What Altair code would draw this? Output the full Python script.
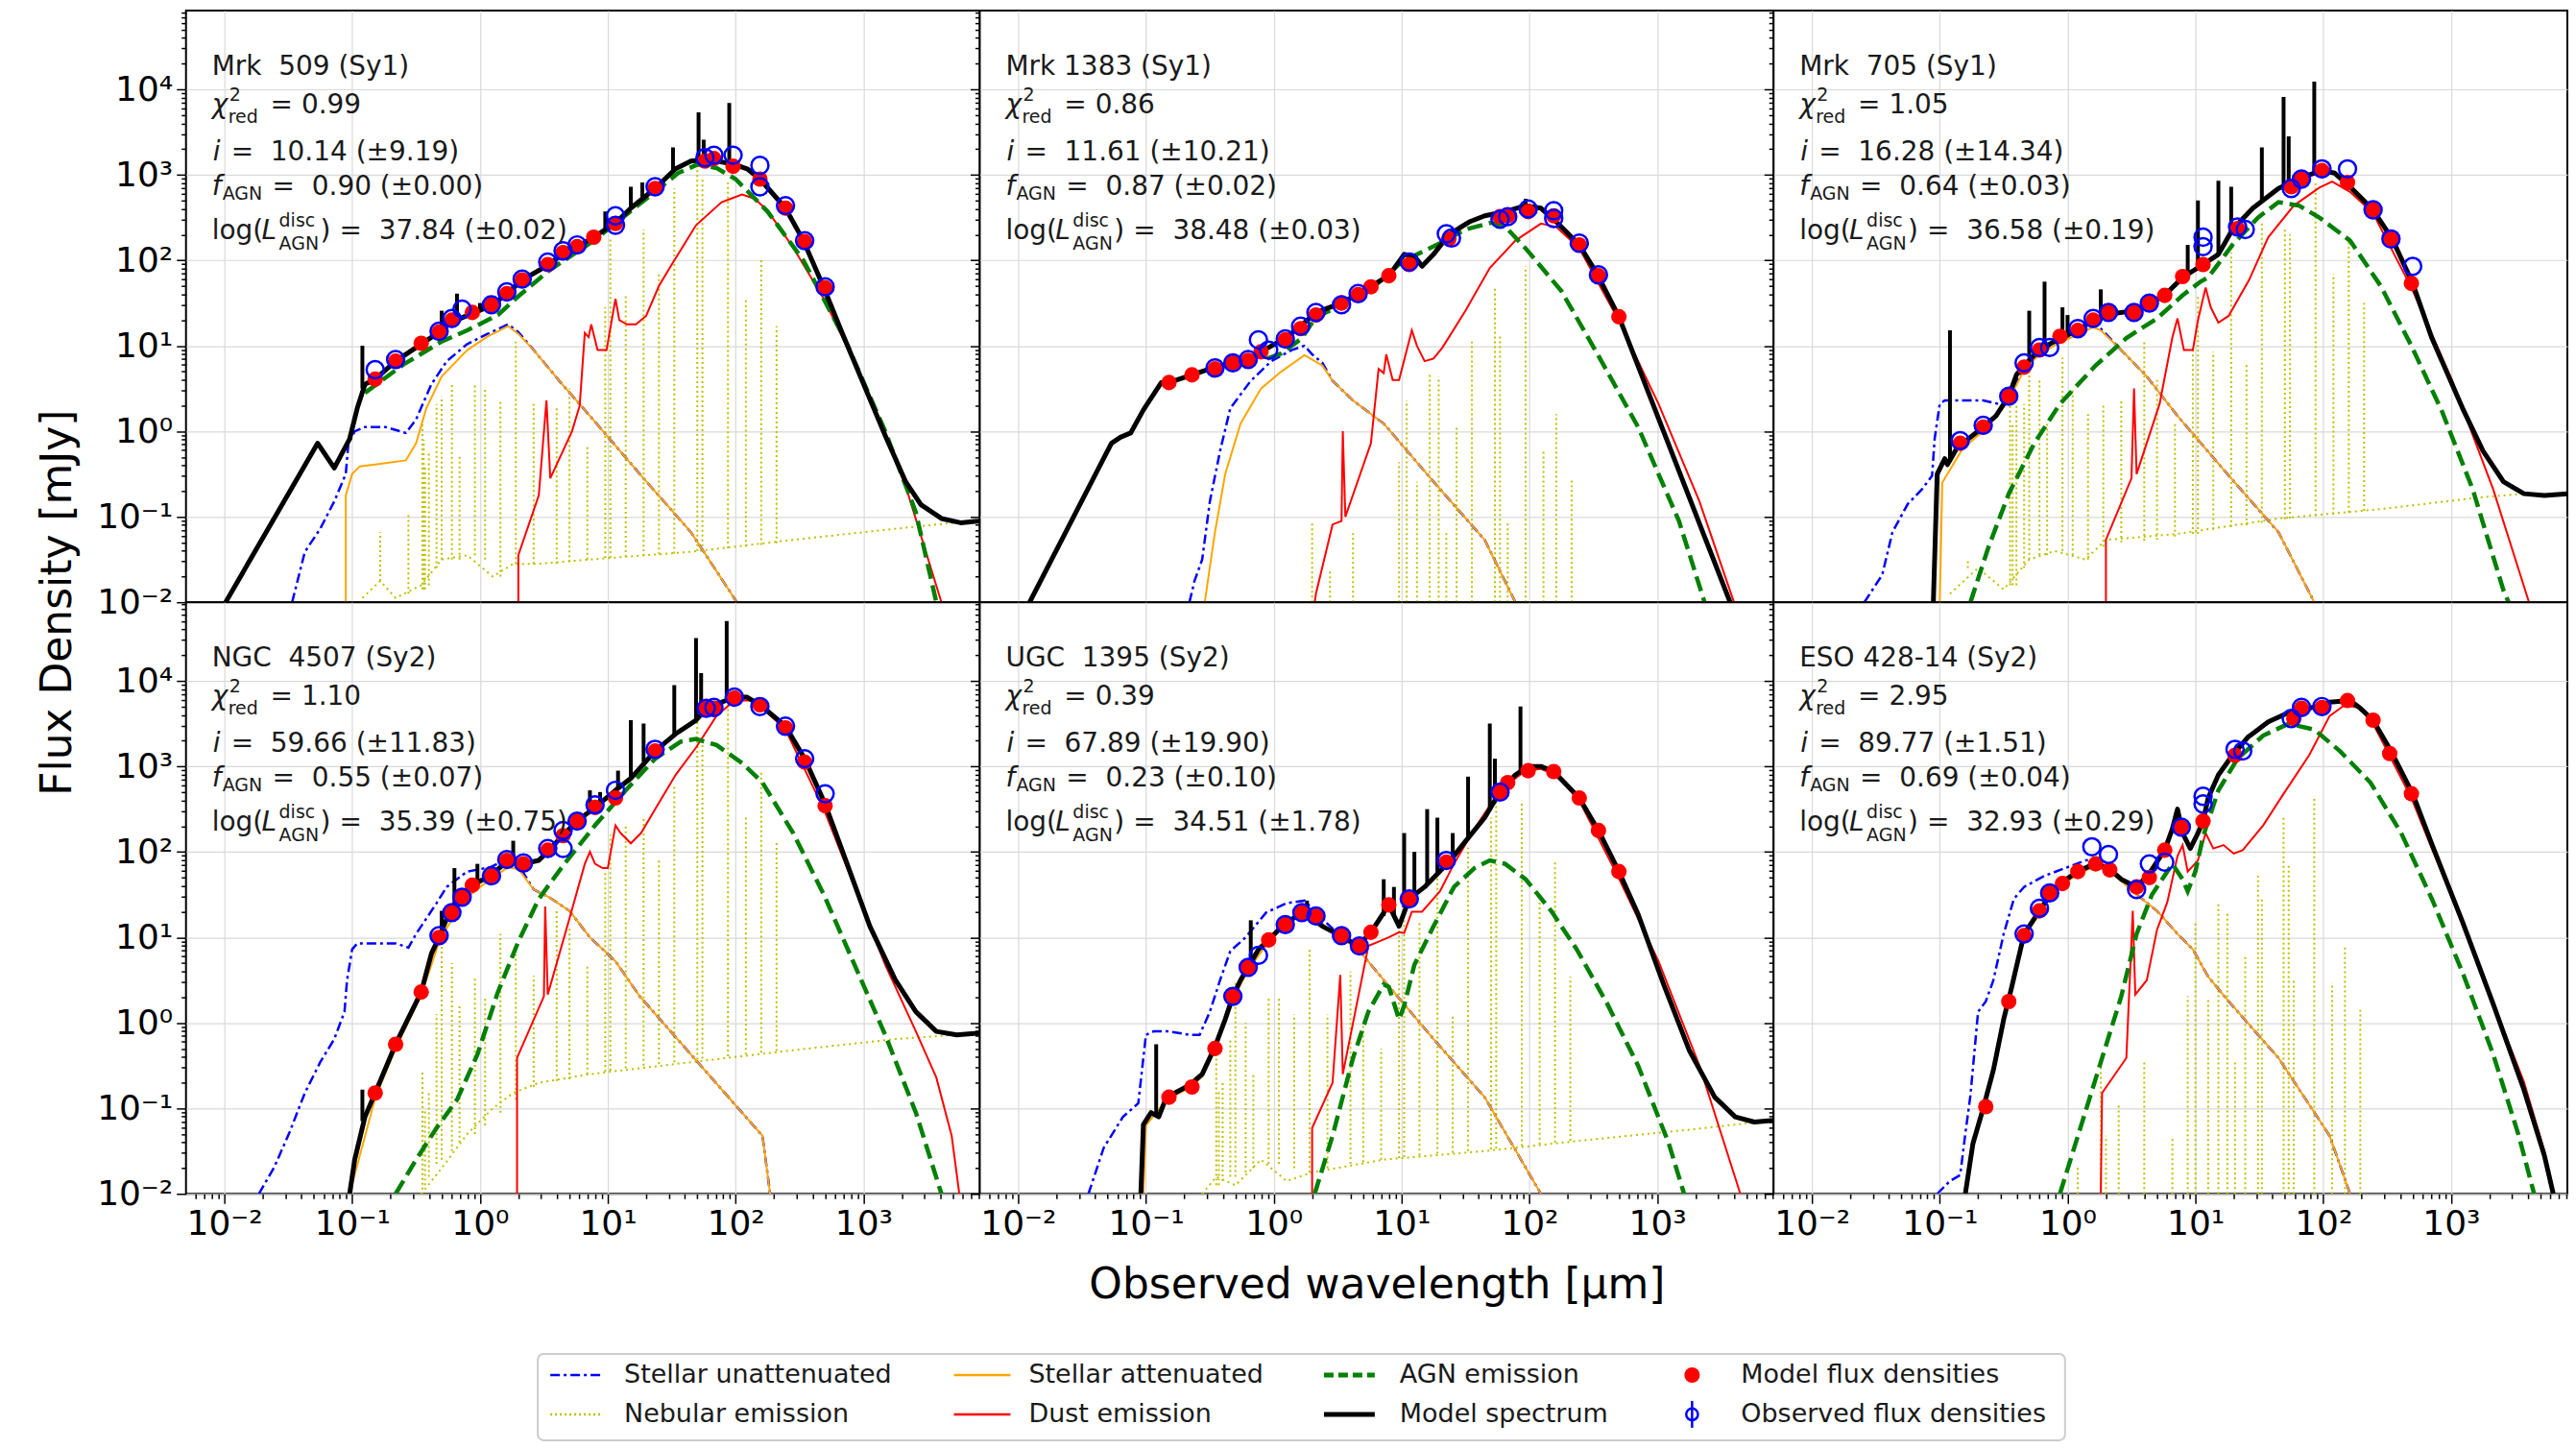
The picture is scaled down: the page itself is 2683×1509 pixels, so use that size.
import altair as alt
import pandas as pd

FONT = "DejaVu Sans"
PANEL_W, PANEL_H = 828, 617
X_DOMAIN = [10 ** -2.30, 10 ** 3.91]
Y_DOMAIN = [1e-2, 10 ** 4.92]

NAMES = ["Mrk\u00a0\u00a0509 (Sy1)", "Mrk 1383 (Sy1)", "Mrk\u00a0\u00a0705 (Sy1)",
         "NGC\u00a0\u00a04507 (Sy2)", "UGC\u00a0\u00a01395 (Sy2)", "ESO 428-14 (Sy2)"]
CHI2 = ["0.99", "0.86", "1.05", "1.10", "0.39", "2.95"]
INCL = ["10.14 (±9.19)", "11.61 (±10.21)", "16.28 (±14.34)", "59.66 (±11.83)", "67.89 (±19.90)", "89.77 (±1.51)"]
FAGN = ["0.90 (±0.00)", "0.87 (±0.02)", "0.64 (±0.03)", "0.55 (±0.07)", "0.23 (±0.10)", "0.69 (±0.04)"]
LAGN = ["37.84 (±0.02)", "38.48 (±0.03)", "36.58 (±0.19)", "35.39 (±0.75)", "34.51 (±1.78)", "32.93 (±0.29)"]

# All curves: (log10 wavelength [um], log10 flux [mJy])
# Rules: (log10 wavelength, log10 base, log10 top)

# ---------------- Mrk 509 ----------------
MRK509_SPEC = [(-1.99,-2.00),(-1.27,-0.14),(-1.14,-0.43),(-1.02,-0.09),(-0.96,0.27),(-0.90,0.55),(-0.82,0.61),(-0.66,0.82),(-0.46,1.02),(-0.32,1.16),(-0.22,1.28),(-0.04,1.39),(0.10,1.48),(0.21,1.61),(0.33,1.77),(0.54,1.95),(0.66,2.09),(0.76,2.16),(0.89,2.27),(1.00,2.38),(1.07,2.45),(1.18,2.61),(1.37,2.84),(1.53,3.07),(1.65,3.16),(1.77,3.18),(1.97,3.13),(2.09,3.07),(2.19,2.95),(2.39,2.61),(2.53,2.23),(2.69,1.68),(2.85,1.09),(3.17,-0.05),(3.33,-0.59),(3.45,-0.86),(3.61,-1.02),(3.76,-1.07),(3.91,-1.05)]
MRK509_SPIKES = [(-0.92,0.50,1.00),(-0.30,1.14,1.41),(-0.18,1.25,1.61),(0.00,1.42,1.50),(0.98,2.36,2.57),(1.18,2.61,2.86),(1.27,2.72,2.91),(1.51,3.04,3.32),(1.71,3.17,3.73),(1.75,3.18,3.41),(1.95,3.14,3.84)]
MRK509_MODEL = [(-0.82,0.61),(-0.66,0.82),(-0.46,1.03),(-0.32,1.16),(-0.22,1.30),(-0.06,1.39),(0.09,1.48),(0.21,1.61),(0.33,1.77),(0.53,1.95),(0.65,2.09),(0.76,2.16),(0.89,2.27),(1.06,2.43),(1.37,2.84),(1.76,3.16),(1.83,3.19),(1.98,3.10),(2.19,2.95),(2.39,2.61),(2.54,2.22),(2.70,1.68)]
MRK509_OBS = [(-0.82,0.72),(-0.66,0.84),(-0.32,1.17),(-0.22,1.32),(-0.14,1.43),(0.09,1.48),(0.21,1.63),(0.33,1.78),(0.53,1.98),(0.65,2.11),(0.76,2.18),(1.06,2.52),(1.06,2.41),(1.37,2.86),(1.76,3.20),(1.83,3.23),(1.98,3.23),(2.19,3.11),(2.19,2.86),(2.39,2.64),(2.54,2.23),(2.70,1.69)]
MRK509_AGN = [(-0.90,0.45),(-0.60,0.78),(-0.30,1.05),(-0.10,1.18),(0.14,1.36),(0.30,1.58),(0.54,1.88),(0.90,2.24),(1.20,2.60),(1.40,2.84),(1.55,3.02),(1.70,3.12),(1.85,3.08),(2.00,2.95),(2.25,2.57),(2.53,2.00),(2.85,1.09),(3.17,0.00),(3.41,-0.95),(3.57,-2.00)]
MRK509_DUST = [(0.30,-2.0),(0.30,-1.45),(0.46,-0.75),(0.52,0.36),(0.55,-0.55),(0.72,0.00),(0.78,0.30),(0.82,1.15),(0.85,1.10),(0.87,1.25),(0.92,0.95),(0.99,0.95),(1.06,1.55),(1.09,1.30),(1.15,1.25),(1.22,1.25),(1.30,1.35),(1.40,1.70),(1.50,1.95),(1.69,2.41),(1.89,2.68),(2.05,2.77),(2.15,2.72),(2.25,2.58),(2.45,2.15),(2.69,1.55),(3.01,0.55),(3.33,-0.64),(3.61,-2.0)]
MRK509_STUN = [(-1.47,-2.0),(-1.37,-1.41),(-1.25,-1.14),(-1.14,-0.82),(-1.05,-0.50),(-1.03,-0.15),(-0.98,0.00),(-0.90,0.05),(-0.74,0.05),(-0.58,-0.02),(-0.50,0.14),(-0.38,0.55),(-0.26,0.82),(-0.10,1.02),(0.06,1.14),(0.22,1.25),(0.30,1.16),(0.42,0.95),(0.62,0.59),(0.86,0.18),(1.25,-0.50),(1.65,-1.18),(2.01,-2.0)]
MRK509_STATT = [(-1.05,-2.0),(-1.05,-0.75),(-1.00,-0.50),(-0.94,-0.41),(-0.82,-0.39),(-0.58,-0.34),(-0.50,-0.14),(-0.42,0.27),(-0.30,0.64),(-0.10,0.95),(0.06,1.11),(0.22,1.23),(0.30,1.14),(0.42,0.95),(0.62,0.59),(0.86,0.18),(1.25,-0.50),(1.65,-1.18),(2.01,-2.0)]
MRK509_NEBC = [(-0.92,-1.95),(-0.78,-1.75),(-0.66,-1.95),(-0.46,-1.80),(-0.30,-1.50),(-0.10,-1.45),(0.10,-1.70),(0.26,-1.55),(0.46,-1.55),(0.86,-1.50),(1.65,-1.41),(2.45,-1.27),(3.25,-1.14),(3.91,-1.04)]
MRK509_NEBL = [(-0.78,-1.75,-1.18),(-0.56,-1.90,-0.95),(-0.45,-1.85,0.09),(-0.44,-1.85,-0.10),(-0.43,-1.85,-0.40),(-0.40,-1.80,-0.23),(-0.34,-1.60,0.32),(-0.30,-1.50,0.41),(-0.22,-1.50,0.55),(-0.16,-1.50,-0.27),(-0.04,-1.45,0.55),(0.04,-1.50,0.50),(0.16,-1.70,0.36),(0.28,-1.55,1.05),(0.42,-1.55,0.32),(0.60,-1.55,0.27),(0.70,-1.53,0.50),(0.84,-1.50,-0.18),(0.98,-1.48,1.45),(1.02,-1.48,2.27),(1.14,-1.47,1.59),(1.28,-1.46,2.36),(1.40,-1.44,1.86),(1.52,-1.43,2.84),(1.70,-1.40,3.09),(1.74,-1.40,2.95),(1.94,-1.37,2.91),(2.08,-1.35,1.55),(2.20,-1.33,2.02),(2.32,-1.31,1.23)]

# ---------------- Mrk 1383 ----------------
MRK1383_SPEC = [(-1.91,-2.00),(-1.27,-0.14),(-1.20,-0.07),(-1.12,-0.02),(-1.02,0.25),(-0.88,0.57),(-0.82,0.57),(-0.64,0.66),(-0.46,0.75),(-0.32,0.80),(-0.20,0.84),(-0.04,0.98),(0.09,1.09),(0.21,1.23),(0.33,1.39),(0.53,1.50),(0.66,1.61),(0.76,1.70),(0.90,1.82),(1.02,2.07),(1.10,2.05),(1.16,1.93),(1.25,2.07),(1.37,2.30),(1.53,2.45),(1.65,2.52),(1.81,2.57),(1.97,2.64),(2.09,2.61),(2.21,2.45),(2.39,2.18),(2.53,1.84),(2.70,1.34),(3.57,-2.00)]
MRK1383_SPIKES = [(1.97,2.62,2.72)]
MRK1383_MODEL = [(-0.82,0.57),(-0.64,0.66),(-0.46,0.73),(-0.32,0.80),(-0.20,0.83),(-0.10,0.93),(0.09,1.07),(0.21,1.20),(0.33,1.36),(0.53,1.50),(0.66,1.60),(0.76,1.69),(0.90,1.82),(1.06,1.95),(1.37,2.25),(1.77,2.51),(1.83,2.52),(1.99,2.57),(2.19,2.52),(2.39,2.18),(2.54,1.82),(2.70,1.34)]
MRK1383_OBS = [(-0.46,0.74),(-0.32,0.80),(-0.20,0.84),(-0.12,1.07),(-0.04,0.95),(0.09,1.08),(0.21,1.23),(0.33,1.39),(0.53,1.48),(0.66,1.61),(1.06,1.98),(1.35,2.31),(1.39,2.26),(1.77,2.48),(1.83,2.51),(1.99,2.60),(2.19,2.58),(2.19,2.49),(2.39,2.20),(2.54,1.83)]
MRK1383_AGN = [(-0.05,0.85),(0.06,0.91),(0.22,1.09),(0.33,1.34),(0.53,1.47),(0.76,1.66),(1.00,1.98),(1.30,2.20),(1.50,2.36),(1.70,2.44),(1.82,2.38),(1.97,2.14),(2.25,1.64),(2.53,0.91),(2.85,0.05),(3.17,-1.05),(3.37,-2.00)]
MRK1383_DUST = [(0.32,-2.00),(0.33,-1.90),(0.46,-1.09),(0.53,-1.05),(0.54,0.00),(0.56,-1.00),(0.76,-0.14),(0.82,0.73),(0.86,0.68),(0.88,0.90),(0.93,0.60),(0.98,0.60),(1.08,1.18),(1.12,1.00),(1.18,0.82),(1.25,0.85),(1.32,0.98),(1.50,1.41),(1.69,1.91),(1.89,2.23),(2.09,2.43),(2.21,2.39),(2.39,2.14),(2.69,1.32),(3.01,0.32),(3.33,-0.82),(3.60,-2.00)]
MRK1383_STUN = [(-0.66,-2.00),(-0.62,-1.75),(-0.56,-1.50),(-0.50,-0.82),(-0.42,-0.23),(-0.34,0.27),(-0.18,0.59),(-0.02,0.82),(0.14,0.95),(0.24,1.00),(0.30,0.90),(0.38,0.80),(0.46,0.59),(0.62,0.36),(0.86,0.09),(1.25,-0.59),(1.65,-1.27),(1.89,-2.00)]
MRK1383_STATT = [(-0.54,-2.00),(-0.46,-1.18),(-0.38,-0.50),(-0.26,0.09),(-0.10,0.50),(0.06,0.70),(0.24,0.89),(0.38,0.77),(0.46,0.59),(0.62,0.36),(0.86,0.09),(1.25,-0.59),(1.65,-1.27),(1.89,-2.00)]
MRK1383_NEBC = []
MRK1383_NEBL = [(0.30,-2,-1.05),(0.44,-2,-1.64),(0.62,-2,-1.18),(0.98,-2,-0.36),(1.04,-2,0.36),(1.12,-2,-0.59),(1.22,-2,0.68),(1.29,-2,0.64),(1.35,-2,-1.16),(1.43,-2,0.05),(1.55,-2,1.05),(1.73,-2,1.70),(1.77,-2,1.14),(1.83,-2,-1.05),(1.97,-2,1.93),(2.11,-2,-0.23),(2.21,-2,0.20),(2.33,-2,-0.55)]

# ---------------- Mrk 705 ----------------
MRK705_SPEC = [(-1.05,-2.00),(-1.02,-0.50),(-0.96,-0.32),(-0.94,-0.39),(-0.86,-0.18),(-0.82,-0.14),(-0.66,0.05),(-0.56,0.18),(-0.46,0.41),(-0.40,0.66),(-0.34,0.77),(-0.22,0.95),(-0.06,1.09),(0.08,1.18),(0.20,1.30),(0.32,1.37),(0.52,1.41),(0.64,1.50),(0.76,1.59),(0.90,1.80),(1.06,1.95),(1.18,2.07),(1.29,2.36),(1.45,2.61),(1.65,2.84),(1.85,2.98),(1.99,3.05),(2.09,3.02),(2.21,2.86),(2.39,2.59),(2.54,2.25),(2.70,1.73),(2.85,1.09),(3.09,0.27),(3.25,-0.23),(3.41,-0.59),(3.57,-0.73),(3.73,-0.75),(3.91,-0.73)]
MRK705_SPIKES = [(-0.92,-0.35,1.18),(-0.30,0.86,1.41),(-0.18,0.98,1.75),(-0.04,1.06,1.45),(0.00,1.10,1.36),(0.26,1.34,1.66),(0.94,1.84,2.18),(1.02,1.90,2.70),(1.18,2.07,2.93),(1.28,2.33,2.86),(1.52,2.70,3.32),(1.69,2.88,3.91),(1.73,2.90,3.45),(1.93,3.03,4.09)]
MRK705_MODEL = [(-0.84,-0.14),(-0.66,0.05),(-0.46,0.41),(-0.34,0.75),(-0.22,0.95),(-0.06,1.11),(0.08,1.18),(0.20,1.30),(0.32,1.39),(0.52,1.39),(0.64,1.50),(0.76,1.59),(0.90,1.81),(1.06,1.95),(1.33,2.37),(1.75,2.86),(1.83,2.95),(1.99,3.05),(2.19,2.91),(2.39,2.59),(2.53,2.25),(2.69,1.73)]
MRK705_OBS = [(-0.84,-0.11),(-0.66,0.07),(-0.46,0.41),(-0.34,0.80),(-0.22,0.98),(-0.14,0.98),(0.08,1.20),(0.20,1.32),(0.32,1.39),(0.52,1.39),(0.64,1.50),(1.06,2.27),(1.06,2.16),(1.33,2.39),(1.39,2.36),(1.75,2.84),(1.83,2.95),(1.99,3.07),(2.19,3.07),(2.39,2.59),(2.53,2.25),(2.70,1.93)]
MRK705_AGN = [(-0.76,-2.00),(-0.62,-1.36),(-0.46,-0.73),(-0.26,-0.14),(-0.06,0.32),(0.22,0.77),(0.46,1.09),(0.70,1.32),(0.90,1.59),(1.04,1.75),(1.10,1.80),(1.29,2.18),(1.49,2.50),(1.65,2.68),(1.81,2.64),(1.97,2.50),(2.21,2.23),(2.45,1.70),(2.69,1.00),(2.93,0.23),(3.17,-0.68),(3.41,-1.86),(3.45,-2.00)]
MRK705_DUST = [(0.30,-2.00),(0.30,-1.27),(0.50,-0.55),(0.52,0.50),(0.54,-0.50),(0.72,0.32),(0.82,1.10),(0.86,1.32),(0.91,0.95),(0.98,0.95),(1.02,1.30),(1.08,1.68),(1.12,1.45),(1.18,1.27),(1.26,1.35),(1.42,1.77),(1.57,2.27),(1.77,2.64),(1.97,2.85),(2.07,2.92),(2.21,2.80),(2.39,2.55),(2.69,1.68),(3.01,0.59),(3.33,-0.68),(3.61,-2.00)]
MRK705_STUN = [(-1.59,-2.00),(-1.45,-1.68),(-1.37,-1.18),(-1.25,-0.85),(-1.14,-0.68),(-1.06,-0.52),(-1.04,-0.09),(-1.00,0.32),(-0.96,0.36),(-0.82,0.36),(-0.66,0.36),(-0.54,0.32),(-0.46,0.41),(-0.34,0.74),(-0.22,0.93),(-0.06,1.07),(0.08,1.16),(0.20,1.27),(0.26,1.20),(0.42,0.95),(0.62,0.64),(0.86,0.18),(1.25,-0.50),(1.65,-1.18),(1.93,-2.00)]
MRK705_STATT = [(-1.00,-2.00),(-0.98,-0.60),(-0.82,-0.20),(-0.66,0.00),(-0.46,0.36),(-0.34,0.72),(-0.22,0.90),(-0.06,1.04),(0.08,1.13),(0.20,1.22),(0.26,1.18),(0.42,0.95),(0.62,0.64),(0.86,0.18),(1.25,-0.50),(1.65,-1.18),(1.93,-2.00)]
MRK705_NEBC = [(-0.92,-1.90),(-0.70,-1.60),(-0.50,-1.85),(-0.30,-1.50),(-0.10,-1.40),(0.14,-1.50),(0.30,-1.27),(0.86,-1.20),(1.65,-1.02),(2.45,-0.91),(3.25,-0.77),(3.57,-0.73)]
MRK705_NEBL = [(-0.78,-1.60,-1.50),(-0.45,-1.80,0.50),(-0.43,-1.80,0.10),(-0.40,-1.80,0.30),(-0.34,-1.60,0.32),(-0.30,-1.50,0.77),(-0.22,-1.45,0.60),(-0.16,-1.45,0.10),(-0.04,-1.40,0.86),(0.04,-1.45,0.50),(0.16,-1.50,0.20),(0.28,-1.35,0.30),(0.42,-1.30,0.36),(0.60,-1.28,1.05),(0.70,-1.27,0.60),(0.84,-1.23,0.10),(0.98,-1.20,0.95),(1.02,-1.20,1.60),(1.14,-1.15,0.93),(1.28,-1.12,2.09),(1.40,-1.10,0.80),(1.52,-1.07,2.45),(1.70,-1.03,2.36),(1.74,-1.02,2.30),(1.94,-0.99,2.90),(2.08,-0.97,1.84),(2.20,-0.95,2.30),(2.32,-0.93,1.50)]

# ---------------- NGC 4507 ----------------
NGC4507_SPEC = [(-1.02,-2.00),(-0.98,-1.60),(-0.90,-1.10),(-0.82,-0.82),(-0.66,-0.25),(-0.46,0.36),(-0.38,0.81),(-0.32,1.00),(-0.26,1.22),(-0.14,1.47),(-0.06,1.61),(0.08,1.72),(0.22,1.90),(0.34,1.86),(0.46,1.90),(0.54,2.02),(0.64,2.18),(0.76,2.36),(0.90,2.52),(1.06,2.72),(1.18,2.86),(1.37,3.18),(1.53,3.38),(1.69,3.54),(1.77,3.68),(1.99,3.81),(2.09,3.81),(2.19,3.72),(2.39,3.47),(2.54,3.09),(2.70,2.56),(2.85,1.95),(3.05,1.13),(3.25,0.50),(3.41,0.13),(3.57,-0.10),(3.73,-0.14),(3.91,-0.12)]
NGC4507_SPIKES = [(-0.92,-1.15,-0.78),(-0.30,1.10,1.31),(-0.20,1.30,1.81),(-0.02,1.62,1.86),(0.26,1.88,2.13),(0.86,2.48,2.72),(0.94,2.55,2.70),(1.08,2.73,2.95),(1.18,2.86,3.54),(1.28,3.05,3.50),(1.52,3.37,3.95),(1.69,3.54,4.50),(1.73,3.60,4.09),(1.93,3.79,4.70)]
NGC4507_MODEL = [(-0.82,-0.82),(-0.66,-0.25),(-0.46,0.36),(-0.32,1.00),(-0.22,1.29),(-0.14,1.47),(-0.06,1.61),(0.09,1.72),(0.21,1.90),(0.34,1.86),(0.53,2.02),(0.65,2.19),(0.76,2.36),(0.90,2.52),(1.06,2.63),(1.37,3.18),(1.77,3.68),(1.83,3.68),(1.99,3.80),(2.19,3.72),(2.39,3.45),(2.54,3.05),(2.70,2.54)]
NGC4507_OBS = [(-0.32,1.02),(-0.22,1.29),(-0.14,1.47),(0.09,1.72),(0.21,1.91),(0.34,1.87),(0.53,2.04),(0.65,2.25),(0.65,2.04),(0.76,2.36),(0.90,2.55),(1.06,2.72),(1.37,3.20),(1.77,3.68),(1.83,3.69),(1.99,3.81),(2.19,3.70),(2.39,3.47),(2.54,3.09),(2.70,2.68)]
NGC4507_AGN = [(-0.66,-2.00),(-0.50,-1.60),(-0.34,-1.23),(-0.18,-0.90),(-0.02,-0.37),(0.14,0.36),(0.30,0.95),(0.46,1.45),(0.66,1.86),(0.90,2.31),(1.14,2.72),(1.37,3.09),(1.57,3.29),(1.69,3.32),(1.85,3.25),(2.05,3.04),(2.21,2.81),(2.45,2.22),(2.69,1.50),(2.93,0.68),(3.17,-0.14),(3.41,-1.05),(3.61,-2.00)]
NGC4507_DUST = [(0.29,-2.00),(0.29,-0.41),(0.50,0.31),(0.51,1.36),(0.53,0.33),(0.70,1.22),(0.82,1.86),(0.86,2.00),(0.90,1.86),(0.96,1.81),(1.00,1.81),(1.06,2.31),(1.10,2.22),(1.18,2.10),(1.26,2.22),(1.37,2.50),(1.53,2.90),(1.69,3.22),(1.85,3.59),(1.99,3.77),(2.13,3.77),(2.21,3.68),(2.39,3.43),(2.69,2.50),(2.93,1.59),(3.17,0.68),(3.41,-0.10),(3.57,-0.64),(3.69,-1.32),(3.75,-2.00)]
NGC4507_STUN = [(-1.73,-2.00),(-1.61,-1.69),(-1.49,-1.28),(-1.37,-0.82),(-1.25,-0.46),(-1.14,-0.19),(-1.06,0.13),(-1.04,0.50),(-1.00,0.86),(-0.96,0.93),(-0.82,0.93),(-0.66,0.93),(-0.56,0.88),(-0.50,1.04),(-0.42,1.22),(-0.34,1.40),(-0.26,1.59),(-0.10,1.77),(0.08,1.82),(0.22,1.92),(0.30,1.85),(0.42,1.56),(0.54,1.47),(0.70,1.31),(0.86,1.00),(1.06,0.72),(1.25,0.31),(1.65,-0.37),(2.05,-1.05),(2.21,-1.32),(2.27,-2.00)]
NGC4507_STATT = [(-1.02,-2.00),(-0.82,-0.88),(-0.66,-0.30),(-0.46,0.32),(-0.32,0.95),(-0.14,1.42),(0.08,1.68),(0.22,1.82),(0.30,1.80),(0.42,1.56),(0.54,1.47),(0.70,1.31),(0.86,1.00),(1.06,0.72),(1.25,0.31),(1.65,-0.37),(2.05,-1.05),(2.21,-1.32),(2.27,-2.00)]
NGC4507_NEBC = [(-0.46,-2.00),(-0.30,-1.70),(-0.10,-1.30),(0.10,-1.00),(0.26,-0.82),(0.46,-0.70),(0.86,-0.60),(1.65,-0.46),(2.45,-0.32),(3.25,-0.19),(3.91,-0.12)]
NGC4507_NEBL = [(-0.45,-1.95,-0.55),(-0.43,-1.90,-1.00),(-0.40,-1.80,-0.80),(-0.34,-1.65,0.10),(-0.30,-1.60,1.04),(-0.22,-1.50,0.70),(-0.16,-1.40,0.20),(-0.04,-1.30,0.55),(0.04,-1.20,0.30),(0.16,-1.05,1.04),(0.28,-0.90,0.80),(0.42,-0.75,0.55),(0.60,-0.68,1.31),(0.70,-0.66,1.10),(0.84,-0.60,0.68),(0.98,-0.57,1.77),(1.02,-0.56,2.20),(1.14,-0.53,2.31),(1.28,-0.50,2.40),(1.40,-0.48,1.90),(1.52,-0.46,2.77),(1.70,-0.43,3.54),(1.74,-0.42,3.30),(1.94,-0.39,3.80),(2.08,-0.37,2.43),(2.20,-0.35,2.93),(2.32,-0.33,2.13)]

# ---------------- UGC 1395 ----------------
UGC1395_SPEC = [(-1.04,-2.00),(-1.02,-1.19),(-0.96,-1.05),(-0.90,-1.10),(-0.84,-0.87),(-0.66,-0.73),(-0.56,-0.60),(-0.46,-0.28),(-0.38,0.04),(-0.32,0.31),(-0.26,0.50),(-0.20,0.65),(-0.12,0.86),(-0.04,0.97),(0.08,1.15),(0.22,1.29),(0.30,1.22),(0.38,1.13),(0.52,1.02),(0.66,0.90),(0.76,1.06),(0.90,1.38),(0.98,1.13),(1.06,1.45),(1.18,1.59),(1.37,1.88),(1.53,2.18),(1.65,2.40),(1.77,2.70),(1.89,2.90),(1.99,3.00),(2.09,3.00),(2.19,2.94),(2.39,2.63),(2.54,2.25),(2.70,1.77),(2.85,1.27),(3.05,0.45),(3.25,-0.32),(3.45,-0.87),(3.61,-1.10),(3.76,-1.16),(3.91,-1.14)]
UGC1395_SPIKES = [(-0.92,-1.10,-0.25),(-0.18,0.65,1.20),(0.26,1.25,1.43),(0.86,1.25,1.68),(0.94,1.25,1.59),(1.02,1.35,2.22),(1.10,1.50,2.00),(1.20,1.62,2.50),(1.28,1.75,2.40),(1.40,1.92,2.22),(1.52,2.15,2.88),(1.69,2.50,3.50),(1.73,2.62,3.09),(1.93,2.95,3.70)]
UGC1395_MODEL = [(-0.82,-0.87),(-0.64,-0.75),(-0.46,-0.30),(-0.32,0.31),(-0.20,0.65),(-0.04,0.97),(0.09,1.15),(0.22,1.29),(0.33,1.25),(0.53,1.02),(0.67,0.90),(0.76,1.06),(0.90,1.38),(1.06,1.45),(1.35,1.88),(1.77,2.70),(1.83,2.81),(1.99,2.95),(2.19,2.94),(2.39,2.63),(2.54,2.25),(2.70,1.77)]
UGC1395_OBS = [(-0.32,0.31),(-0.20,0.65),(-0.12,0.79),(0.09,1.15),(0.22,1.29),(0.33,1.25),(0.53,1.02),(0.67,0.90),(1.06,1.45),(1.35,1.90),(1.77,2.70)]
UGC1395_AGN = [(0.32,-2.00),(0.46,-1.32),(0.62,-0.41),(0.74,0.13),(0.86,0.45),(0.90,0.42),(0.98,0.04),(1.02,0.20),(1.10,0.68),(1.25,1.13),(1.41,1.59),(1.57,1.81),(1.69,1.90),(1.81,1.86),(1.97,1.68),(2.17,1.31),(2.37,0.86),(2.61,0.22),(2.85,-0.50),(3.09,-1.41),(3.21,-2.00)]
UGC1395_DUST = [(0.30,-2.00),(0.30,-1.23),(0.46,-0.70),(0.52,0.56),(0.54,-0.60),(0.70,0.60),(0.74,0.90),(0.82,0.95),(0.90,1.00),(0.98,1.06),(1.02,1.05),(1.08,1.30),(1.16,1.30),(1.30,1.54),(1.41,1.86),(1.57,2.27),(1.77,2.72),(1.97,2.95),(2.09,2.97),(2.21,2.90),(2.39,2.60),(2.69,1.72),(3.01,0.72),(3.33,-0.50),(3.65,-2.00)]
UGC1395_STUN = [(-1.45,-2.00),(-1.33,-1.46),(-1.18,-1.10),(-1.06,-0.94),(-1.00,-0.14),(-0.94,-0.10),(-0.82,-0.10),(-0.66,-0.14),(-0.58,-0.14),(-0.50,0.13),(-0.42,0.50),(-0.34,0.84),(-0.22,1.00),(-0.06,1.29),(0.10,1.40),(0.24,1.43),(0.34,1.27),(0.52,1.02),(0.66,0.86),(0.86,0.50),(1.25,-0.19),(1.65,-0.87),(2.09,-2.00)]
UGC1395_STATT = [(-1.02,-2.00),(-1.00,-1.20),(-0.84,-0.90),(-0.66,-0.76),(-0.56,-0.63),(-0.46,-0.30),(-0.32,0.28),(-0.20,0.62),(-0.04,0.95),(0.08,1.13),(0.22,1.27),(0.34,1.20),(0.52,1.00),(0.66,0.86),(0.86,0.50),(1.25,-0.19),(1.65,-0.87),(2.09,-2.00)]
UGC1395_NEBC = [(-0.56,-2.00),(-0.45,-1.80),(-0.30,-1.90),(-0.10,-1.60),(0.10,-1.85),(0.30,-1.75),(0.86,-1.60),(1.65,-1.50),(2.45,-1.37),(3.25,-1.25),(3.91,-1.14)]
UGC1395_NEBL = [(-0.45,-1.90,-0.37),(-0.43,-1.90,-0.80),(-0.40,-1.85,-0.70),(-0.34,-1.80,-0.20),(-0.30,-1.80,0.50),(-0.22,-1.75,0.00),(-0.16,-1.70,-0.60),(-0.04,-1.65,0.31),(0.04,-1.65,0.30),(0.16,-1.70,0.10),(0.28,-1.75,0.86),(0.42,-1.70,0.10),(0.60,-1.65,0.60),(0.70,-1.63,0.00),(0.84,-1.60,-0.30),(0.98,-1.58,1.15),(1.02,-1.57,1.20),(1.14,-1.55,1.20),(1.28,-1.53,1.80),(1.40,-1.52,0.10),(1.52,-1.50,2.05),(1.70,-1.48,2.40),(1.74,-1.47,2.80),(1.94,-1.44,2.60),(2.08,-1.42,1.47),(2.20,-1.40,1.90),(2.32,-1.38,0.54)]

# ---------------- ESO 428-14 ----------------
ESO428_SPEC = [(-0.80,-2.00),(-0.74,-1.41),(-0.66,-1.00),(-0.58,-0.55),(-0.50,0.04),(-0.44,0.40),(-0.34,1.04),(-0.22,1.31),(-0.12,1.54),(-0.04,1.65),(0.08,1.77),(0.21,1.86),(0.32,1.81),(0.42,1.68),(0.54,1.59),(0.64,1.75),(0.76,2.02),(0.82,2.27),(0.86,2.50),(0.90,2.22),(0.96,2.04),(1.02,2.22),(1.06,2.36),(1.10,2.63),(1.18,2.90),(1.29,3.13),(1.41,3.34),(1.57,3.52),(1.73,3.63),(1.89,3.68),(2.05,3.75),(2.21,3.77),(2.29,3.68),(2.39,3.54),(2.53,3.18),(2.70,2.68),(2.85,2.09),(3.09,1.18),(3.33,0.22),(3.57,-0.78),(3.73,-1.55),(3.80,-2.00)]
ESO428_SPIKES = []
ESO428_MODEL = [(-0.64,-0.98),(-0.46,0.25),(-0.34,1.02),(-0.22,1.31),(-0.14,1.52),(-0.04,1.63),(0.08,1.77),(0.22,1.86),(0.33,1.79),(0.54,1.59),(0.64,1.70),(0.76,2.02),(0.89,2.29),(1.06,2.36),(1.31,3.13),(1.77,3.56),(1.83,3.68),(1.99,3.69),(2.19,3.77),(2.39,3.54),(2.52,3.15),(2.69,2.68)]
ESO428_OBS = [(-0.34,1.04),(-0.22,1.34),(-0.14,1.52),(0.19,2.06),(0.32,1.97),(0.54,1.56),(0.64,1.86),(0.76,1.88),(0.89,2.29),(1.06,2.65),(1.06,2.56),(1.31,3.20),(1.37,3.18),(1.75,3.56),(1.83,3.69),(1.99,3.70)]
ESO428_AGN = [(-0.06,-2.00),(0.10,-1.23),(0.26,-0.46),(0.42,0.31),(0.54,1.04),(0.66,1.50),(0.82,1.86),(0.90,1.68),(0.94,1.54),(1.00,1.77),(1.06,2.18),(1.18,2.72),(1.33,3.09),(1.53,3.36),(1.73,3.50),(1.93,3.43),(2.13,3.18),(2.37,2.81),(2.61,2.22),(2.85,1.45),(3.09,0.59),(3.33,-0.37),(3.53,-1.32),(3.65,-2.00)]
ESO428_DUST = [(0.26,-2.00),(0.27,-0.82),(0.46,-0.41),(0.51,1.31),(0.53,0.33),(0.62,0.50),(0.70,1.09),(0.78,1.41),(0.86,1.95),(0.90,2.08),(0.94,1.77),(1.02,1.90),(1.08,2.22),(1.14,2.04),(1.22,2.08),(1.30,1.98),(1.37,2.02),(1.53,2.31),(1.69,2.68),(1.89,3.13),(2.05,3.59),(2.17,3.72),(2.29,3.68),(2.39,3.50),(2.69,2.63),(3.01,1.45),(3.33,0.22),(3.57,-0.69),(3.73,-1.50),(3.79,-2.00)]
ESO428_STUN = [(-1.02,-2.00),(-0.92,-1.85),(-0.84,-1.78),(-0.80,-1.30),(-0.76,-0.85),(-0.70,0.13),(-0.64,0.25),(-0.58,0.50),(-0.50,1.04),(-0.42,1.45),(-0.34,1.59),(-0.18,1.72),(-0.02,1.81),(0.14,1.90),(0.26,1.93),(0.32,1.83),(0.42,1.68),(0.54,1.50),(0.70,1.31),(0.86,1.04),(0.98,0.86),(1.10,0.54),(1.25,0.27),(1.65,-0.41),(2.05,-1.32),(2.21,-2.00)]
ESO428_STATT = [(-0.80,-2.00),(-0.74,-1.45),(-0.66,-1.02),(-0.58,-0.58),(-0.50,0.00),(-0.44,0.38),(-0.34,1.00),(-0.22,1.28),(-0.12,1.50),(-0.04,1.62),(0.08,1.74),(0.21,1.83),(0.32,1.78),(0.42,1.66),(0.54,1.50),(0.70,1.31),(0.86,1.04),(0.98,0.86),(1.10,0.54),(1.25,0.27),(1.65,-0.41),(2.05,-1.32),(2.21,-2.00)]
ESO428_NEBC = []
ESO428_NEBL = [(0.08,-2,-1.69),(0.26,-2,-0.46),(0.30,-2,-1.32),(0.40,-2,-0.96),(0.60,-2,-0.46),(0.82,-2,-1.35),(0.94,-2,0.31),(1.00,-2,1.18),(1.10,-2,0.29),(1.18,-2,1.40),(1.25,-2,1.29),(1.31,-2,-0.46),(1.39,-2,0.77),(1.49,-2,1.72),(1.52,-2,1.45),(1.69,-2,2.40),(1.73,-2,1.84),(1.77,-2,0.50),(1.93,-2,2.63),(2.07,-2,0.47),(2.17,-2,0.90),(2.29,-2,0.15)]

PANELS = [
    (MRK509_SPEC, MRK509_SPIKES, MRK509_MODEL, MRK509_OBS, MRK509_AGN, MRK509_DUST, MRK509_STUN, MRK509_STATT, MRK509_NEBC, MRK509_NEBL),
    (MRK1383_SPEC, MRK1383_SPIKES, MRK1383_MODEL, MRK1383_OBS, MRK1383_AGN, MRK1383_DUST, MRK1383_STUN, MRK1383_STATT, MRK1383_NEBC, MRK1383_NEBL),
    (MRK705_SPEC, MRK705_SPIKES, MRK705_MODEL, MRK705_OBS, MRK705_AGN, MRK705_DUST, MRK705_STUN, MRK705_STATT, MRK705_NEBC, MRK705_NEBL),
    (NGC4507_SPEC, NGC4507_SPIKES, NGC4507_MODEL, NGC4507_OBS, NGC4507_AGN, NGC4507_DUST, NGC4507_STUN, NGC4507_STATT, NGC4507_NEBC, NGC4507_NEBL),
    (UGC1395_SPEC, UGC1395_SPIKES, UGC1395_MODEL, UGC1395_OBS, UGC1395_AGN, UGC1395_DUST, UGC1395_STUN, UGC1395_STATT, UGC1395_NEBC, UGC1395_NEBL),
    (ESO428_SPEC, ESO428_SPIKES, ESO428_MODEL, ESO428_OBS, ESO428_AGN, ESO428_DUST, ESO428_STUN, ESO428_STATT, ESO428_NEBC, ESO428_NEBL),
]

# ---------------- legend (drawn below the grid, pixel layout relative to first panel) ----------------
LEG_BOX = (367, 1960, 1401, 1491)
LEG_ROW_Y = [1423, 1464]
LEG_LINE_ENTRIES = [
    # label, column, row, color, dash, width
    ("Stellar unattenuated", 0, 0, "#0000ff", [10, 4, 3, 4], 2.5),
    ("Stellar attenuated", 1, 0, "#ffa500", [1, 0], 2.5),
    ("AGN emission", 2, 0, "#008000", [10, 5], 5),
    ("Nebular emission", 0, 1, "#bfbf00", [2, 3], 2.5),
    ("Dust emission", 1, 1, "#ff0000", [1, 0], 2.5),
    ("Model spectrum", 2, 1, "#000000", [1, 0], 5),
]
LEG_POINT_ENTRIES = [("Model flux densities", 3, 0), ("Observed flux densities", 3, 1)]
LEG_SYM_X = [(380, 434), (801, 860), (1187, 1240), (1571, 1571)]
LEG_LABEL_X = [457, 879, 1266, 1622]

# ---------------- axes ----------------
DEC_TEST = "abs(log(datum.value) / LN10 - round(log(datum.value) / LN10)) < 0.001"
EXP = "round(log(datum.value) / LN10)"
SUPS = {-2: "⁻²", -1: "⁻¹", 0: "⁰", 1: "¹", 2: "²", 3: "³", 4: "⁴"}
_sup = "''"
for _k, _v in SUPS.items():
    _sup = f"({EXP} == {_k} ? '{_v}' : {_sup})"
LABEL_EXPR = f"({DEC_TEST}) ? ('10' + {_sup}) : ''"

X_TICKS = [k * 10.0 ** n for n in range(-3, 4) for k in range(1, 10)
           if X_DOMAIN[0] <= k * 10.0 ** n <= X_DOMAIN[1]]
Y_TICKS = [k * 10.0 ** n for n in range(-2, 5) for k in range(1, 10)
           if Y_DOMAIN[0] <= k * 10.0 ** n <= Y_DOMAIN[1]]


def make_axis(ticks, labels, **extra):
    return alt.Axis(
        values=ticks, labels=labels, labelExpr=LABEL_EXPR, labelOverlap=False, labelFlush=False,
        labelFont=FONT, labelColor="black", labelPadding=4,
        labelFontSize={"condition": {"test": DEC_TEST, "value": 36}, "value": 0},
        ticks=True, tickColor="black", tickWidth=1.5,
        tickSize={"condition": {"test": DEC_TEST, "value": 10}, "value": 5},
        grid=True, gridColor="#d9d9d9", gridWidth=1.2,
        gridOpacity={"condition": {"test": DEC_TEST, "value": 1}, "value": 0},
        domain=False, **extra)


def pairs_df(pairs):
    return pd.DataFrame({"w": [10 ** a for a, b in pairs],
                         "f": [10 ** b for a, b in pairs],
                         "i": list(range(len(pairs)))})


def rules_df(rows):
    return pd.DataFrame({"w": [10 ** a for a, b, c in rows],
                         "f": [10 ** b for a, b, c in rows],
                         "f2": [10 ** c for a, b, c in rows]})


def text_frames(k):
    x0 = 27
    normal = [
        (x0, 67, NAMES[k], 28),
        (x0 + 18, 94, "2", 19),
        (x0 + 17, 117, "red", 19),
        (x0 + 61, 107, "=\u00a0" + CHI2[k], 28),
        (x0 + 20, 156, "=\u00a0\u00a0" + INCL[k], 28),
        (x0 + 11, 197, "AGN", 19),
        (x0 + 63, 192, "=\u00a0\u00a0" + FAGN[k], 28),
        (x0, 238, "log(", 28),
        (x0 + 70, 225, "disc", 19),
        (x0 + 70, 249, "AGN", 19),
        (x0 + 113, 238, ")", 28),
        (x0 + 133, 238, "=\u00a0\u00a0" + LAGN[k], 28),
    ]
    italic = [(x0, 107, "χ", 28), (x0 + 1, 156, "i", 28), (x0, 192, "f", 28), (x0 + 52, 238, "L", 28)]
    mk = lambda rows: pd.DataFrame({"px": [r[0] for r in rows], "py": [r[1] for r in rows],
                                    "t": [r[2] for r in rows], "s": [r[3] for r in rows]})
    return mk(normal), mk(italic)


def legend_layers():
    dummy = pd.DataFrame({"a": [0]})
    out = [alt.Chart(dummy).mark_rect(fill="white", stroke="#cccccc", strokeWidth=2, cornerRadius=6).encode(
        x=alt.value(LEG_BOX[0]), x2=alt.value(LEG_BOX[1]), y=alt.value(LEG_BOX[2]), y2=alt.value(LEG_BOX[3]))]
    for label, c, r, color, dash, width in LEG_LINE_ENTRIES:
        out.append(alt.Chart(dummy).mark_rule(color=color, strokeDash=dash, strokeWidth=width).encode(
            x=alt.value(LEG_SYM_X[c][0]), x2=alt.value(LEG_SYM_X[c][1]), y=alt.value(LEG_ROW_Y[r])))
    # model flux densities: filled red dot
    out.append(alt.Chart(dummy).mark_circle(color="#ff0000", size=260, opacity=1).encode(
        x=alt.value(LEG_SYM_X[3][0]), y=alt.value(LEG_ROW_Y[0])))
    # observed flux densities: open blue circle with error bar
    out.append(alt.Chart(dummy).mark_rule(color="#0000ff", strokeWidth=2.5).encode(
        x=alt.value(LEG_SYM_X[3][0]), y=alt.value(LEG_ROW_Y[1] - 14), y2=alt.value(LEG_ROW_Y[1] + 14)))
    out.append(alt.Chart(dummy).mark_point(shape="circle", filled=False, color="#0000ff", size=150,
                                           strokeWidth=2.5, opacity=1).encode(
        x=alt.value(LEG_SYM_X[3][0]), y=alt.value(LEG_ROW_Y[1])))
    labels = [(e[0], e[1], e[2]) for e in LEG_LINE_ENTRIES] + LEG_POINT_ENTRIES
    lab_df = pd.DataFrame({"t": [l[0] for l in labels],
                           "px": [LEG_LABEL_X[l[1]] for l in labels],
                           "py": [LEG_ROW_Y[l[2]] for l in labels]})
    out.append(alt.Chart(lab_df).mark_text(align="left", baseline="middle", font=FONT, fontSize=27,
                                           color="#1a1a1a").encode(
        x=alt.X("px:Q", scale=None, axis=None), y=alt.Y("py:Q", scale=None, axis=None), text="t:N"))
    return out


def panel(k, row, col):
    spec, spikes, model, obs, agn, dust, stun, statt, nebc, nebl = PANELS[k]
    xs = alt.Scale(type="log", domain=X_DOMAIN, nice=False)
    ys = alt.Scale(type="log", domain=Y_DOMAIN, nice=False)
    if row == 1 and col == 1:
        xa = make_axis(X_TICKS, True, title="Observed wavelength [µm]", titleFont=FONT, titleFontSize=44,
                       titleFontWeight="normal", titleColor="black", titlePadding=24)
    else:
        xa = make_axis(X_TICKS, row == 1, title=None)
    if row == 0 and col == 0:
        ya = make_axis(Y_TICKS, True, title="Flux Density [mJy]", titleFont=FONT, titleFontSize=44,
                       titleFontWeight="normal", titleColor="black", titleX=-133, titleY=PANEL_H,
                       titleAngle=270, titleAlign="center", titleBaseline="middle")
    else:
        ya = make_axis(Y_TICKS, col == 0, title=None)
    X = alt.X("w:Q", scale=xs, axis=xa)
    Y = alt.Y("f:Q", scale=ys, axis=ya)
    order = alt.Order("i:Q")

    def line(data, **mk):
        return alt.Chart(pairs_df(data)).mark_line(clip=True, **mk).encode(x=X, y=Y, order=order)

    layers = []
    if nebc:
        layers.append(line(nebc, color="#bfbf00", strokeDash=[2, 4], strokeWidth=2))
    layers.append(alt.Chart(rules_df(nebl)).mark_rule(clip=True, color="#bfbf00", strokeDash=[2, 3],
                                                       strokeWidth=2).encode(x=X, y=Y, y2="f2:Q"))
    layers.append(line(stun, color="#0000ff", strokeDash=[10, 4, 3, 4], strokeWidth=2.5))
    layers.append(line(statt, color="#ffa500", strokeWidth=2))
    layers.append(line(dust, color="#ff0000", strokeWidth=2))
    layers.append(line(agn, color="#008000", strokeDash=[16, 7], strokeWidth=4.5))
    layers.append(line(spec, color="#000000", strokeWidth=5, strokeJoin="round"))
    if spikes:
        layers.append(alt.Chart(rules_df(spikes)).mark_rule(clip=True, color="#000000", strokeWidth=4)
                      .encode(x=X, y=Y, y2="f2:Q"))
    layers.append(alt.Chart(pairs_df(model)).mark_circle(clip=True, color="#ff0000", size=260, opacity=1)
                  .encode(x=X, y=Y))
    layers.append(alt.Chart(pairs_df(obs)).mark_point(clip=True, shape="circle", filled=False, color="#0000ff",
                                                      size=320, strokeWidth=2.5, opacity=1).encode(x=X, y=Y))
    tn, ti = text_frames(k)
    tx = alt.X("px:Q", scale=None, axis=None)
    ty = alt.Y("py:Q", scale=None, axis=None)
    tsz = alt.Size("s:Q", scale=None, legend=None)
    layers.append(alt.Chart(tn).mark_text(align="left", baseline="alphabetic", font=FONT, color="#1a1a1a")
                  .encode(x=tx, y=ty, text="t:N", size=tsz))
    layers.append(alt.Chart(ti).mark_text(align="left", baseline="alphabetic", font=FONT, fontStyle="italic",
                                          color="#1a1a1a").encode(x=tx, y=ty, text="t:N", size=tsz))
    if row == 0 and col == 0:
        layers.extend(legend_layers())
    return alt.layer(*layers).properties(width=PANEL_W, height=PANEL_H)


panels = [panel(k, k // 3, k % 3) for k in range(6)]
chart = (alt.concat(*panels, columns=3, spacing=0, bounds="flush")
         .properties(padding={"left": 30, "top": 1, "right": 0, "bottom": 0}, background="white")
         .configure(font=FONT)
         .configure_view(stroke="black", strokeWidth=2, fill="white"))

chart.save("out.html", embed_options={"renderer": "svg", "actions": False})
